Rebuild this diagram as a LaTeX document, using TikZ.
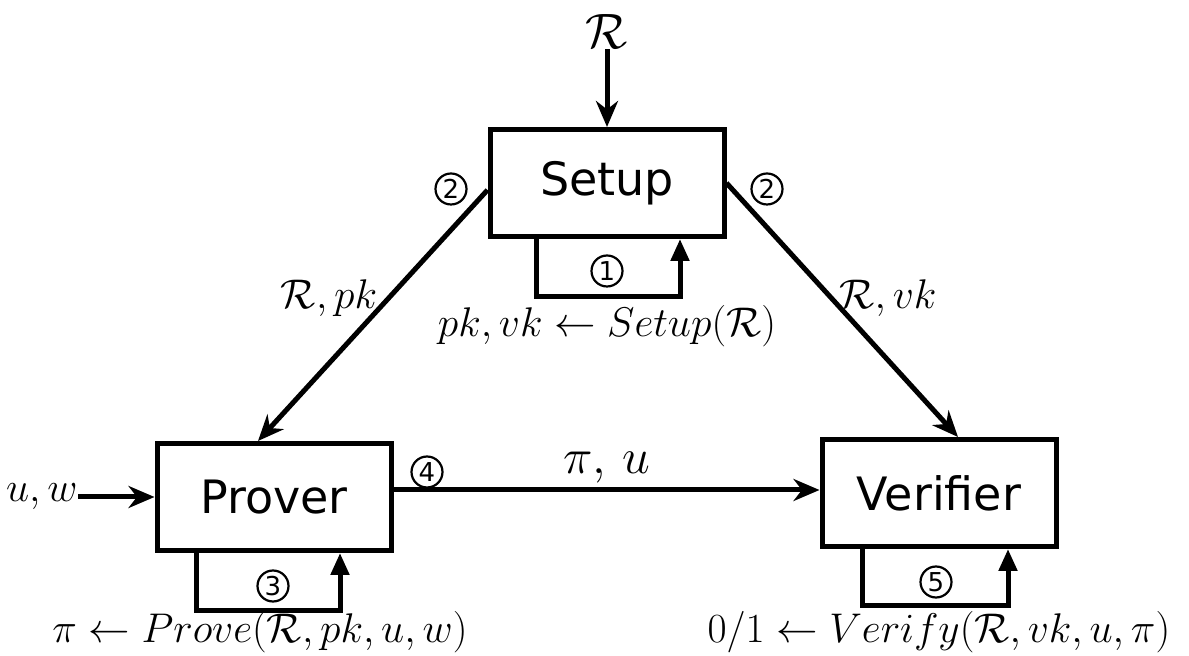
\documentclass[tikz,border=0pt]{standalone}
\usepackage{fontspec}
\newfontfamily\boxfont{DejaVu Sans}
\usetikzlibrary{arrows.meta}

\begin{document}
\begin{tikzpicture}[x=0.5pt,y=-0.5pt,party/.style={rectangle,draw,line width=2.5pt,fill=white,minimum width=117pt,minimum height=53.5pt,inner sep=0pt,font=\boxfont\fontsize{23}{28}\selectfont},flow/.style={line width=2.5pt,-{Stealth[length=13pt,width=11pt]}},selfflow/.style={line width=2.5pt,-{Triangle[length=11pt,width=9pt]}},stepmark/.style={circle,draw,line width=1.1pt,minimum size=15.5pt,inner sep=0pt,font=\boxfont\fontsize{13}{15}\selectfont},term/.style={font=\fontsize{21.3}{25}\selectfont,inner sep=0pt},big/.style={font=\fontsize{26}{30}\selectfont,inner sep=0pt}]
\useasboundingbox (0,0) rectangle (1189,656);
\coordinate (S) at (607,183);
\coordinate (P) at (274,497);
\coordinate (V) at (939,493);
\node[party] (setup) at (S) {Setup};
\node[party] (prover) at (P) {Prover};
\node[party] (verifier) at (V) {Verifier};
\node[big] (rel) at (607,32) {$\mathcal{R}$};
\node[term,anchor=east] (input) at (78,497) {$u,w$};
\draw[flow] (rel) -- (setup);
\draw[flow] (input) -- (prover);
\draw[flow] ([yshift=-3.5pt]setup.west) -- ([xshift=-8pt]prover.north);
\draw[flow] (setup.east) -- ([xshift=9.5pt]verifier.north);
\draw[flow] ([yshift=3.5pt]prover.east) -- ([yshift=1.5pt]verifier.west);
\draw[selfflow] ([xshift=-35.5pt]setup.south) -- ++(0,58) -| ([xshift=36.5pt]setup.south);
\draw[selfflow] ([xshift=-39pt]prover.south) -- ++(0,58) -| ([xshift=33pt]prover.south);
\draw[selfflow] ([xshift=-38.5pt]verifier.south) -- ++(0,57) -| ([xshift=34.5pt]verifier.south);
\node[stepmark] (s1) at (607,271) {1};
\node[stepmark] (s2l) at (451,189) {2};
\node[stepmark] (s2r) at (767,189) {2};
\node[stepmark] (s3) at (273,586) {3};
\node[stepmark] (s4) at (427,472) {4};
\node[stepmark] (s5) at (936,582) {5};
\node[term] (setupterm) at (607,326) {$pk,vk \leftarrow Setup(\mathcal{R})$};
\node[term] (pkterm) at (329,298) {$\mathcal{R},pk$};
\node[term] (vkterm) at (888,298) {$\mathcal{R},vk$};
\node[big,font=\fontsize{30}{34}\selectfont] (proof) at (607,468) {$\pi,\,u$};
\node[term] (proveterm) at (260,632) {$\pi \leftarrow Prove(\mathcal{R},pk,u,w)$};
\node[term] (verifyterm) at (939,632) {$0/1 \leftarrow Verify(\mathcal{R},vk,u,\pi)$};
\end{tikzpicture}
\end{document}
